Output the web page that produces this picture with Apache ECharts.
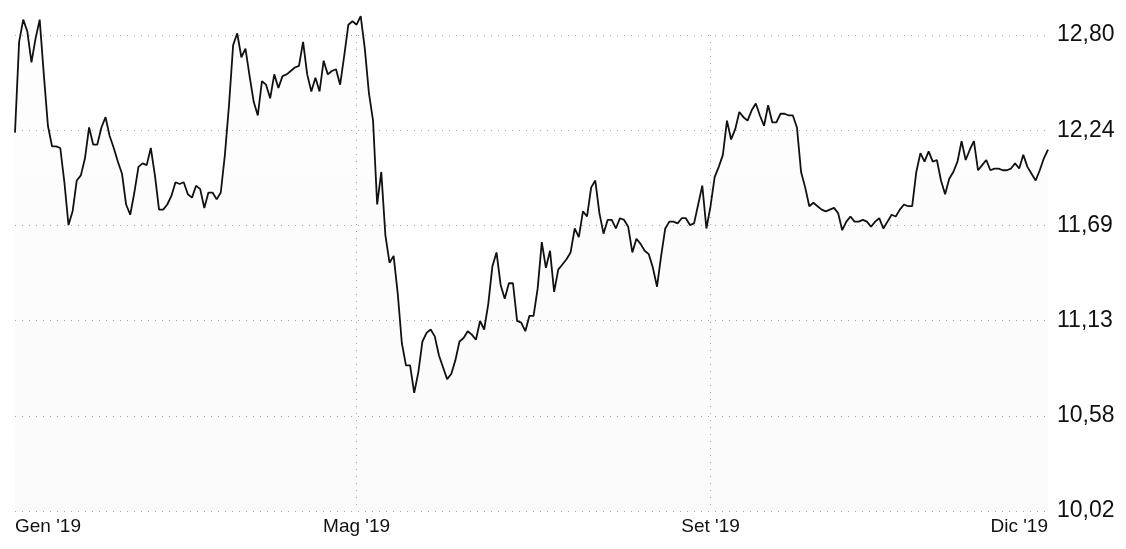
<!DOCTYPE html>
<html>
<head>
<meta charset="utf-8">
<script src="https://cdn.jsdelivr.net/npm/echarts@6/dist/echarts.min.js"></script>
<style>
  html, body { margin: 0; padding: 0; background: #ffffff; }
  #chart { width: 1126px; height: 549px; }
</style>
</head>
<body>
<div id="chart"></div>
<script>
// Trading calendar for 2019 (weekdays minus exchange holidays)
const tradingYear = 2019;
const marketHolidays = ['2019-01-01', '2019-04-19', '2019-04-22', '2019-05-01',
  '2019-08-15', '2019-12-24', '2019-12-25', '2019-12-26', '2019-12-31'];
const monthNames = ['Gen', 'Feb', 'Mar', 'Apr', 'Mag', 'Giu', 'Lug', 'Ago', 'Set', 'Ott', 'Nov', 'Dic'];
const labelMonths = [0, 4, 8, 11];     // months that get a label on the x axis
const gridMonths = [4, 8];             // months that get a vertical guide line

// Daily closing prices, one per trading day
const closePrices = [
  12.23, 12.76, 12.89, 12.82, 12.64, 12.78, 12.89, 12.57, 12.27, 12.15,
  12.15, 12.14, 11.94, 11.69, 11.77, 11.95, 11.98, 12.08, 12.26, 12.16,
  12.16, 12.26, 12.32, 12.21, 12.14, 12.06, 11.99, 11.81, 11.75, 11.88,
  12.03, 12.05, 12.04, 12.14, 11.98, 11.78, 11.78, 11.81, 11.86, 11.94,
  11.93, 11.94, 11.87, 11.85, 11.92, 11.90, 11.79, 11.88, 11.88, 11.84,
  11.88, 12.10, 12.39, 12.74, 12.81, 12.67, 12.72, 12.56, 12.41, 12.33,
  12.53, 12.51, 12.43, 12.57, 12.49, 12.56, 12.57, 12.59, 12.61, 12.62,
  12.76, 12.57, 12.47, 12.55, 12.47, 12.65, 12.57, 12.59, 12.60, 12.51,
  12.68, 12.86, 12.88, 12.86, 12.91, 12.72, 12.46, 12.30, 11.81, 12.00,
  11.63, 11.47, 11.51, 11.29, 11.00, 10.87, 10.87, 10.71, 10.83, 11.01,
  11.06, 11.08, 11.04, 10.93, 10.86, 10.79, 10.82, 10.90, 11.01, 11.03,
  11.07, 11.05, 11.02, 11.13, 11.08, 11.23, 11.45, 11.53, 11.34, 11.26,
  11.35, 11.35, 11.13, 11.12, 11.07, 11.16, 11.16, 11.32, 11.59, 11.44,
  11.54, 11.30, 11.43, 11.46, 11.49, 11.53, 11.67, 11.62, 11.77, 11.74,
  11.91, 11.95, 11.76, 11.64, 11.72, 11.72, 11.67, 11.73, 11.72, 11.68,
  11.53, 11.61, 11.58, 11.54, 11.52, 11.44, 11.33, 11.51, 11.67, 11.71,
  11.71, 11.70, 11.73, 11.73, 11.69, 11.70, 11.81, 11.92, 11.67, 11.80,
  11.97, 12.03, 12.10, 12.30, 12.19, 12.25, 12.35, 12.32, 12.30, 12.36,
  12.40, 12.33, 12.27, 12.39, 12.29, 12.29, 12.34, 12.34, 12.33, 12.33,
  12.26, 12.00, 11.91, 11.80, 11.82, 11.80, 11.78, 11.77, 11.78, 11.79,
  11.76, 11.66, 11.71, 11.74, 11.71, 11.71, 11.72, 11.71, 11.68, 11.71,
  11.73, 11.67, 11.71, 11.75, 11.74, 11.78, 11.81, 11.80, 11.80, 12.00,
  12.11, 12.06, 12.12, 12.06, 12.07, 11.95, 11.87, 11.96, 12.00, 12.06,
  12.18, 12.07, 12.13, 12.18, 12.01, 12.04, 12.07, 12.01, 12.02, 12.02,
  12.01, 12.01, 12.02, 12.05, 12.02, 12.10, 12.03, 11.99, 11.95, 12.01,
  12.08, 12.13
];

// Value axis range and step
const yMin = 10.02;
const yMax = 12.80;
const ySteps = 5;

function pad(n) { return n < 10 ? '0' + n : '' + n; }

function buildTradingDays(year, holidays) {
  const days = [];
  const d = new Date(Date.UTC(year, 0, 1));
  while (d.getUTCFullYear() === year) {
    const dow = d.getUTCDay();
    const key = year + '-' + pad(d.getUTCMonth() + 1) + '-' + pad(d.getUTCDate());
    if (dow !== 0 && dow !== 6 && holidays.indexOf(key) < 0) days.push(key);
    d.setUTCDate(d.getUTCDate() + 1);
  }
  return days;
}

const tradingDays = buildTradingDays(tradingYear, marketHolidays);

// First trading day of every month (index into tradingDays)
const firstOfMonth = {};
tradingDays.forEach(function (day, i) {
  const m = parseInt(day.slice(5, 7), 10) - 1;
  if (firstOfMonth[m] === undefined) firstOfMonth[m] = i;
});

const lastIndex = tradingDays.length - 1;
const labelIndices = labelMonths.map(function (m) { return m === 11 ? lastIndex : firstOfMonth[m]; });
const gridIndices = gridMonths.map(function (m) { return firstOfMonth[m]; });

function monthLabel(day) {
  const m = parseInt(day.slice(5, 7), 10) - 1;
  return monthNames[m] + " '" + day.slice(2, 4);
}

const chart = echarts.init(document.getElementById('chart'), null, { renderer: 'canvas' });

chart.setOption({
  animation: false,
  backgroundColor: '#ffffff',
  grid: { left: 15, right: 78, top: 35, bottom: 38, containLabel: false },
  xAxis: {
    type: 'category',
    data: tradingDays,
    boundaryGap: false,
    axisLine: { show: false },
    axisTick: { show: false },
    axisLabel: {
      interval: function (index) { return labelIndices.indexOf(index) >= 0; },
      formatter: monthLabel,
      color: '#111111',
      fontFamily: 'Liberation Sans, Arial, sans-serif',
      fontSize: 19,
      margin: 6,
      alignMinLabel: 'left',
      alignMaxLabel: 'right',
      showMinLabel: true,
      showMaxLabel: true
    },
    splitLine: {
      show: true,
      interval: function (index) { return gridIndices.indexOf(index) >= 0; },
      lineStyle: { color: '#a8a8a8', width: 1, type: [1, 6] }
    }
  },
  yAxis: {
    type: 'value',
    position: 'right',
    min: yMin,
    max: yMax,
    interval: (yMax - yMin) / ySteps,
    axisLine: { show: false },
    axisTick: { show: false },
    axisLabel: {
      formatter: function (v) { return v.toFixed(2).replace('.', ','); },
      color: '#111111',
      fontFamily: 'Liberation Sans, Arial, sans-serif',
      fontSize: 23,
      margin: 9
    },
    splitLine: {
      show: true,
      lineStyle: { color: '#a8a8a8', width: 1, type: [1, 6] }
    }
  },
  series: [{
    type: 'line',
    data: closePrices,
    showSymbol: false,
    clip: false,
    lineStyle: { color: '#111111', width: 1.8 },
    areaStyle: {
      color: {
        type: 'linear', x: 0, y: 0, x2: 0, y2: 1,
        colorStops: [
          { offset: 0, color: 'rgba(0,0,0,0.006)' },
          { offset: 1, color: 'rgba(0,0,0,0.028)' }
        ]
      }
    }
  }]
});
</script>
</body>
</html>
